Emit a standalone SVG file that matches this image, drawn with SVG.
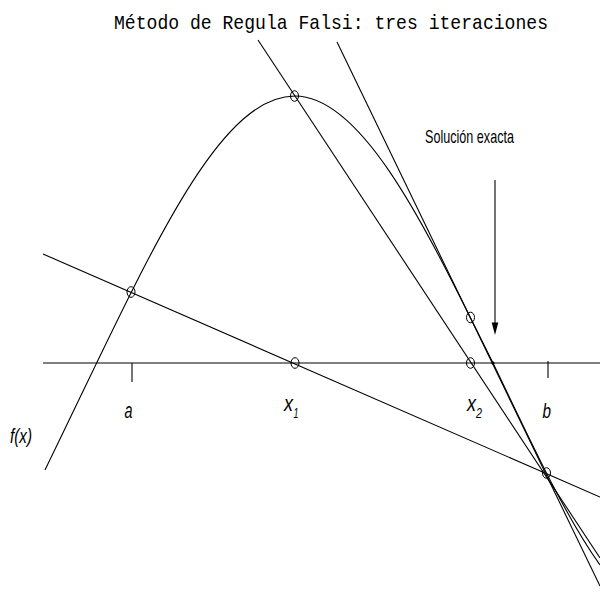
<svg xmlns="http://www.w3.org/2000/svg" width="600" height="601" viewBox="0 0 600 601">
<style>
.ln{fill:none;stroke:#000;stroke-width:1.1}
.pt{fill:none;stroke:#000;stroke-width:1}
.lab{font-family:"Liberation Sans",Arial,sans-serif;font-style:italic;fill:#000}
.txt{font-family:"Liberation Sans",Arial,sans-serif;fill:#000}
.ttl{font-family:"Liberation Mono","Courier New",monospace;fill:#000}
</style>
<rect width="600" height="601" fill="#fff"/>
<text class="ttl" x="114" y="29" font-size="21" textLength="434" lengthAdjust="spacingAndGlyphs">Método de Regula Falsi: tres iteraciones</text>
<g id="axis">
<line class="ln" x1="43" y1="363" x2="600" y2="363"/>
<line class="ln" x1="132" y1="363" x2="132" y2="382"/>
<line class="ln" x1="548" y1="361" x2="548" y2="378"/>
</g>
<g id="curve">
<path class="ln" d="M45,470 C145,265 215,96 295,96 C365,96 430,237 493,363 C529,437.5 564,514.6 600,565"/>
</g>
<g id="secants">
<line class="ln" x1="43" y1="254" x2="600" y2="497"/>
<line class="ln" x1="258" y1="40" x2="600" y2="558"/>
<line class="ln" x1="337" y1="42" x2="600" y2="586"/>
</g>
<g id="points">
<ellipse class="pt" cx="131" cy="292" rx="4" ry="5.3"/>
<ellipse class="pt" cx="294.5" cy="96" rx="4" ry="5.3"/>
<ellipse class="pt" cx="295" cy="363" rx="4" ry="5.3"/>
<ellipse class="pt" cx="470.5" cy="317.5" rx="4" ry="5.3"/>
<ellipse class="pt" cx="470.5" cy="363" rx="4" ry="5.3"/>
<ellipse class="pt" cx="546.5" cy="473" rx="4" ry="5.3"/>
<circle cx="493" cy="363" r="1.6" fill="#000"/>
</g>
<g id="exact">
<text class="txt" x="425" y="143" font-size="19" textLength="89" lengthAdjust="spacingAndGlyphs">Solución exacta</text>
<line class="ln" x1="495" y1="180" x2="495" y2="324"/>
<polygon points="491.7,322.5 498.3,322.5 495,335" fill="#000"/>
</g>
<g id="labels">
<text class="lab" x="124.5" y="418" font-size="22" textLength="8" lengthAdjust="spacingAndGlyphs">a</text>
<text class="lab" x="284" y="411" font-size="22" textLength="9" lengthAdjust="spacingAndGlyphs">x</text>
<text class="lab" x="293.5" y="418" font-size="15" textLength="5" lengthAdjust="spacingAndGlyphs">1</text>
<text class="lab" x="467" y="411" font-size="22" textLength="9" lengthAdjust="spacingAndGlyphs">x</text>
<text class="lab" x="476" y="418" font-size="15" textLength="6" lengthAdjust="spacingAndGlyphs">2</text>
<text class="lab" x="542.5" y="418" font-size="21" textLength="8.5" lengthAdjust="spacingAndGlyphs">b</text>
<text class="lab" x="10" y="443" font-size="20" textLength="22" lengthAdjust="spacingAndGlyphs">f(x)</text>
</g>
</svg>
